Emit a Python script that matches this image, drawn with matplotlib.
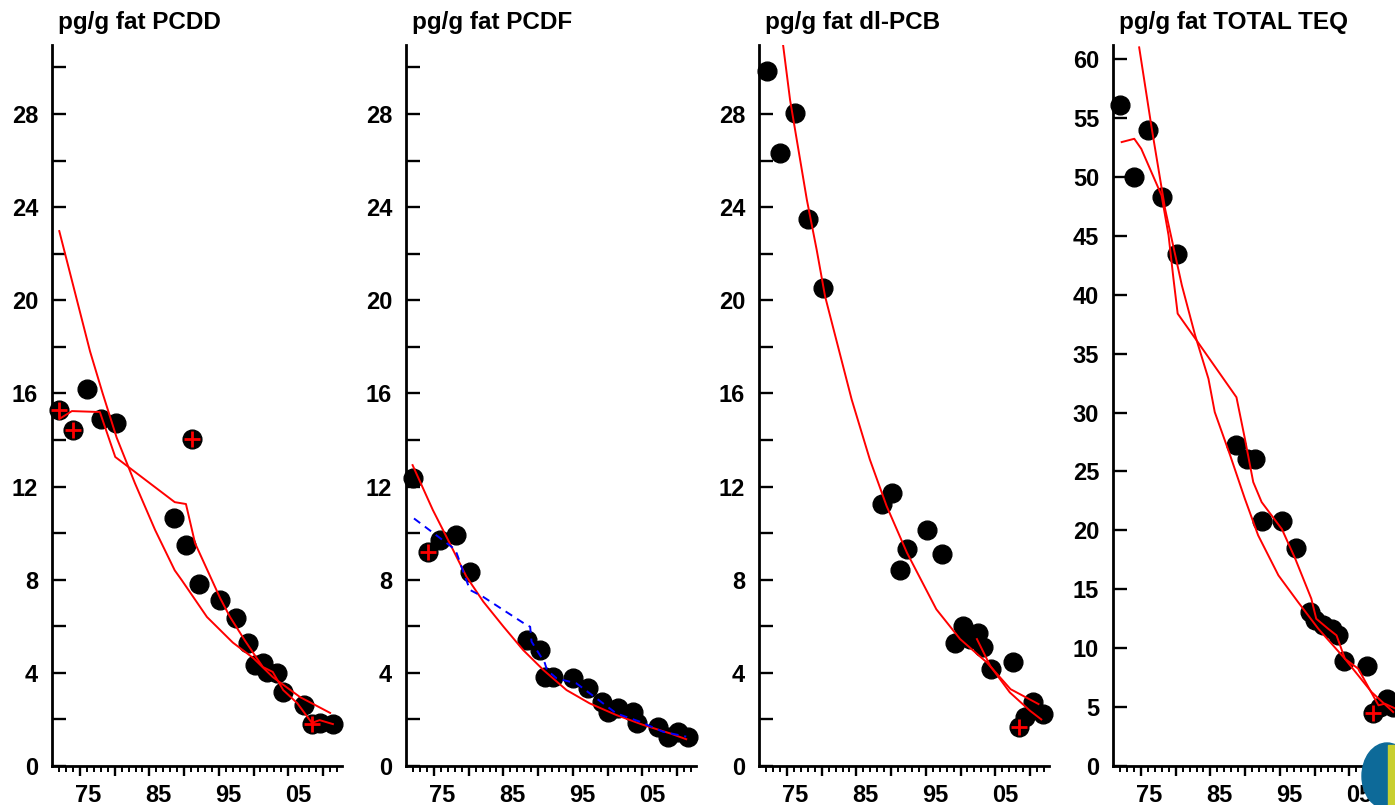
import matplotlib
matplotlib.use('Agg')
import matplotlib.pyplot as plt
from matplotlib.ticker import FixedLocator, NullFormatter
from matplotlib.patches import Ellipse, Rectangle
import numpy as np

plt.rcParams['font.family'] = ['Liberation Sans', 'DejaVu Sans']
plt.rcParams['font.weight'] = 'bold'

# ---------------- data ----------------
titles = ['pg/g fat PCDD', 'pg/g fat PCDF', 'pg/g fat dl-PCB', 'pg/g fat TOTAL TEQ']
year_labels = ['75', '85', '95', '05']
label_years = [1975, 1985, 1995, 2005]

# PCDD
pcdd_years = [1970.9, 1972.9, 1974.9, 1976.9, 1979.0, 1987.3, 1989.0, 1989.9, 1990.9, 1993.9,
              1996.1, 1997.9, 1998.9, 2000.0, 2000.6, 2002.0, 2002.9, 2005.9, 2007.0, 2008.1, 2010.0]
pcdd_vals = [15.29, 14.43, 16.19, 14.90, 14.73, 10.65, 9.49, 14.04, 7.81, 7.13,
             6.35, 5.28, 4.34, 4.42, 4.04, 3.99, 3.18, 2.62, 1.80, 1.85, 1.80]
pcdd_cross_years = [1970.9, 1972.9, 1989.9, 2007.0]
pcdd_cross_vals = [15.29, 14.43, 14.04, 1.80]
pcdd_fit_years = [1970.9, 1975.3, 1977.1, 1979.1, 1981.7, 1984.6, 1987.4, 1988.4, 1992.0,
                  1995.7, 1998.6, 2001.4, 2005.3, 2009.6]
pcdd_fit_vals = [22.97, 17.8, 16.0, 14.1, 12.15, 10.13, 8.4, 7.98, 6.4,
                 5.3, 4.64, 3.82, 2.96, 2.28]
pcdd_ma_years = [1970.9, 1972.7, 1976.7, 1978.9, 1987.4, 1989.0, 1990.3, 1993.9, 1995.3, 1997.4,
                 1999.1, 2000.0, 2001.4, 2002.9, 2004.9, 2007.0, 2008.1, 2010.0]
pcdd_ma_vals = [14.9, 15.24, 15.2, 13.27, 11.33, 11.25, 9.57, 7.2, 6.4, 5.4,
                4.64, 4.25, 4.04, 3.26, 2.7, 1.85, 1.97, 1.8]

# PCDF
pcdf_years = [1970.8, 1973.0, 1974.7, 1977.0, 1979.0, 1987.1, 1989.0, 1989.7, 1990.9, 1993.7,
              1995.9, 1997.8, 1998.7, 2000.1, 2002.3, 2002.8, 2005.9, 2007.3, 2008.7, 2010.1]
pcdf_vals = [12.35, 9.2, 9.7, 9.92, 8.34, 5.41, 4.98, 3.83, 3.82, 3.78,
             3.35, 2.76, 2.32, 2.49, 2.32, 1.85, 1.67, 1.25, 1.46, 1.25]
pcdf_cross_years = [1973.0]
pcdf_cross_vals = [9.2]
pcdf_fit_years = [1970.8, 1973.7, 1976.1, 1978.5, 1980.9, 1983.8, 1986.6, 1989.5, 1992.8,
                  1996.1, 1999.9, 2003.8, 2007.6, 2009.9]
pcdf_fit_vals = [12.92, 10.99, 9.57, 8.13, 7.06, 5.98, 4.98, 4.12, 3.26,
                 2.69, 2.19, 1.76, 1.4, 1.15]
pcdf_ma_years = [1971.0, 1974.5, 1976.6, 1977.1, 1978.3, 1979.0, 1980.9, 1987.1, 1987.6, 1987.8,
                 1989.7, 1990.0, 1991.4, 1994.2, 1997.1, 1999.9, 2003.3, 2006.6, 2009.9]
pcdf_ma_vals = [10.63, 9.84, 9.36, 9.14, 8.13, 7.56, 7.26, 6.05, 5.98, 5.34,
                4.42, 4.12, 3.76, 3.55, 2.9, 2.26, 1.9, 1.47, 1.26]

# dl-PCB
pcb_years = [1971.0, 1972.9, 1975.0, 1976.9, 1979.0, 1987.4, 1988.9, 1990.0, 1991.0, 1993.8,
             1996.0, 1997.9, 1999.0, 2000.0, 2001.2, 2001.9, 2003.0, 2006.2, 2007.0, 2007.9,
             2009.0, 2010.5]
pcb_vals = [29.86, 26.34, 28.06, 23.49, 20.53, 11.23, 11.74, 8.42, 9.31, 10.13,
            9.09, 5.27, 6.02, 5.45, 5.73, 5.09, 4.16, 4.47, 1.66, 2.09,
            2.73, 2.23]
pcb_cross_years = [2007.0]
pcb_cross_vals = [1.66]
pcb_fit_years = [1973.2, 1974.3, 1976.7, 1978.1, 1979.3, 1983.1, 1985.7, 1988.1, 1991.0,
                 1995.2, 1998.6, 2002.4, 2005.8, 2009.8]
pcb_fit_vals = [31.2, 28.6, 24.31, 22.17, 20.17, 15.74, 13.16, 11.16, 9.16,
                6.73, 5.45, 4.45, 3.3, 2.66]
pcb_ma_years = [2001.0, 2002.9, 2005.7, 2008.6, 2010.2]
pcb_ma_vals = [5.45, 4.3, 3.16, 2.37, 2.0]

# TOTAL TEQ
teq_years = [1970.9, 1972.9, 1974.9, 1976.9, 1979.0, 1987.4, 1989.0, 1990.1, 1991.1, 1994.0,
             1996.0, 1998.0, 1998.7, 1999.9, 2001.1, 2002.0, 2002.9, 2006.1, 2007.0, 2008.0,
             2009.0, 2009.9]
teq_vals = [56.07, 49.99, 53.95, 48.29, 43.48, 27.22, 26.08, 26.08, 20.77, 20.77,
            18.53, 13.07, 12.37, 11.94, 11.65, 11.09, 8.88, 8.46, 4.5, 5.0,
            5.71, 5.01]
teq_cross_years = [2007.0]
teq_cross_vals = [4.5]
teq_fit_years = [1973.6, 1975.4, 1977.3, 1979.7, 1981.6, 1983.5, 1984.4, 1986.6, 1988.7,
                 1990.6, 1993.5, 1996.3, 1999.2, 2003.0, 2006.8, 2009.9]
teq_fit_vals = [61.0, 54.1, 47.3, 40.8, 36.55, 32.87, 30.04, 26.37, 22.69,
                19.58, 16.18, 13.92, 11.65, 9.1, 6.28, 4.58]
teq_ma_years = [1971.1, 1972.9, 1973.9, 1976.8, 1977.8, 1978.5, 1979.1, 1981.6, 1987.5, 1988.7,
                1989.9, 1991.1, 1994.0, 1995.9, 1998.2, 1998.9, 2000.6, 2001.8, 2003.0, 2004.9,
                2007.0, 2007.8, 2008.7, 2010.5]
teq_ma_vals = [52.96, 53.24, 52.39, 48.43, 45.04, 41.36, 38.4, 36.3, 31.3, 27.8,
               24.1, 22.4, 20.1, 17.6, 14.2, 12.5, 11.65, 11.09, 9.1, 8.26,
               6.0, 5.15, 5.29, 4.8]

panels = [
    dict(pts=(pcdd_years, pcdd_vals), cross=(pcdd_cross_years, pcdd_cross_vals),
         red=[(pcdd_fit_years, pcdd_fit_vals), (pcdd_ma_years, pcdd_ma_vals)], blue=None),
    dict(pts=(pcdf_years, pcdf_vals), cross=(pcdf_cross_years, pcdf_cross_vals),
         red=[(pcdf_fit_years, pcdf_fit_vals)], blue=(pcdf_ma_years, pcdf_ma_vals)),
    dict(pts=(pcb_years, pcb_vals), cross=(pcb_cross_years, pcb_cross_vals),
         red=[(pcb_fit_years, pcb_fit_vals), (pcb_ma_years, pcb_ma_vals)], blue=None),
    dict(pts=(teq_years, teq_vals), cross=(teq_cross_years, teq_cross_vals),
         red=[(teq_fit_years, teq_fit_vals), (teq_ma_years, teq_ma_vals)], blue=None),
]

# ---------------- layout ----------------
W, H = 1395, 805
fig = plt.figure(figsize=(W / 100, H / 100), dpi=100)
lefts = [52, 406, 759, 1113]
ax_w, ax_bottom, ax_top = 290, 766, 45

long_ticks = [1973.86 + 4.96 * k for k in range(8)]
minor_ticks = [1973.86 + 0.992 * k for k in range(-3, 38) if k % 5 != 0]

for i, (p, left) in enumerate(zip(panels, lefts)):
    ax = fig.add_axes([left / W, (H - ax_bottom) / H, ax_w / W, (ax_bottom - ax_top) / H])
    for s in ['top', 'right']:
        ax.spines[s].set_visible(False)
    for s in ['left', 'bottom']:
        ax.spines[s].set_linewidth(2.0)
    ax.set_xlim(1969.86, 2011.3)

    if i < 3:
        ax.set_ylim(0, 30.96)
        yt = list(range(0, 31, 2))
        ax.set_yticks(yt)
        ax.set_yticklabels([str(v) if v % 4 == 0 else '' for v in yt])
    else:
        ax.set_ylim(0, 61.2)
        yt = list(range(0, 61, 5))
        ax.set_yticks(yt)
        ax.set_yticklabels([str(v) for v in yt])
    ax.tick_params(axis='y', direction='in', length=10, width=1.7, pad=10, labelsize=17)

    ax.xaxis.set_major_locator(FixedLocator(long_ticks))
    ax.xaxis.set_major_formatter(NullFormatter())
    ax.xaxis.set_minor_locator(FixedLocator(minor_ticks))
    ax.tick_params(axis='x', which='major', direction='out', length=7, width=1.7)
    ax.tick_params(axis='x', which='minor', direction='out', length=4, width=1.4)

    sec = ax.secondary_xaxis('bottom')
    sec.set_xticks(label_years, year_labels)
    sec.tick_params(length=0, pad=13, labelsize=17)
    sec.spines['bottom'].set_visible(False)

    ax.plot(p['pts'][0], p['pts'][1], 'o', color='black', ms=13.5, zorder=3, clip_on=False)
    for xs, ys in p['red']:
        ax.plot(xs, ys, '-', color='#ff0000', lw=1.4, zorder=4)
    if p['blue'] is not None:
        ax.plot(p['blue'][0], p['blue'][1], '--', color='#0000ff', lw=1.4,
                dashes=(4, 3), zorder=4)
    ax.plot(p['cross'][0], p['cross'][1], '+', color='#ff0000', ms=11, mew=2,
            zorder=5, clip_on=False)

    fig.text((left + 6) / W, 1 - 29 / H, titles[i], ha='left', va='baseline',
             fontsize=17.5, fontweight='bold')

# partial logo in the lower right corner
fig.patches.append(Ellipse(((1387) / W, 1 - 776 / H), 50 / W, 66 / H,
                           transform=fig.transFigure, color='#0d6a99', zorder=10))
fig.patches.append(Rectangle((1388 / W, 0), 7 / W, 60 / H,
                             transform=fig.transFigure, color='#c8cf2f', zorder=11))

fig.savefig('out.png', dpi=100)
